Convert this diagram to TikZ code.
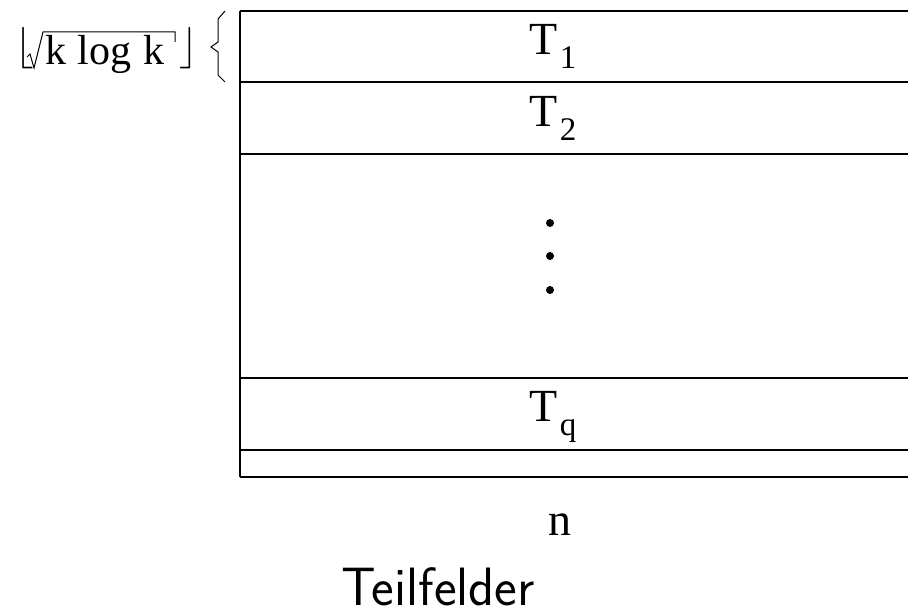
\documentclass[tikz,border=0pt]{standalone}
\usepackage{fontspec}
\setmainfont{Liberation Serif}
\usepackage{tikz}
\usetikzlibrary{positioning, calc}

\newcommand{\tsub}[1]{\kern1pt\raisebox{-7pt}{\fontsize{16.5}{16.5}\selectfont #1}}

\begin{document}
\begin{tikzpicture}[x=0.5pt, y=-0.5pt, line width=0.6pt,
  every node/.style={inner sep=0pt, outer sep=0pt},
  lbl/.style={font=\fontsize{23}{23}\selectfont, anchor=base}]

\useasboundingbox (0,0) rectangle (908,613);

%//the stripe field, open on the right
\draw (240,11) -- (240,477);
\foreach \y in {11, 82, 154, 378, 450, 477}
\draw (240,\y) -- (908,\y);

\foreach \y/\val in {55/T\tsub{1}, 127/T\tsub{2}, 422/T\tsub{q}}
\node [lbl] (t\y) at (553, \y) {\val};

\foreach \y in {223, 256, 290}
\fill (550,\y) circle [radius=2pt];

%//row height on the left
\node [lbl, font=\fontsize{21}{21}\selectfont, anchor=base west] (klk) at (45,65)
  {k\hspace{0.28em}log\hspace{0.28em}k};
\draw [line width=0.5pt] (27,57) -- (30,54) -- (34,68) -- (43,32) -- (175,32) -- (175,42);
\node [anchor=base west, font=\fontsize{21}{21}\selectfont] (fl) at (16,59) {$\lfloor$};
\node [anchor=base west, font=\fontsize{21}{21}\selectfont] (fr) at (179,59) {$\rfloor$};
\draw [line width=0.5pt] (225,11) -- (218,19) -- (218,42) -- (211,47) -- (218,52) -- (218,75) -- (225,82);

\node [lbl] (n) at (560,535) {n};
\node [anchor=base, font=\sffamily\fontsize{27}{27}\selectfont] (tf) at (438,605) {Teilfelder};
\end{tikzpicture}
\end{document}
